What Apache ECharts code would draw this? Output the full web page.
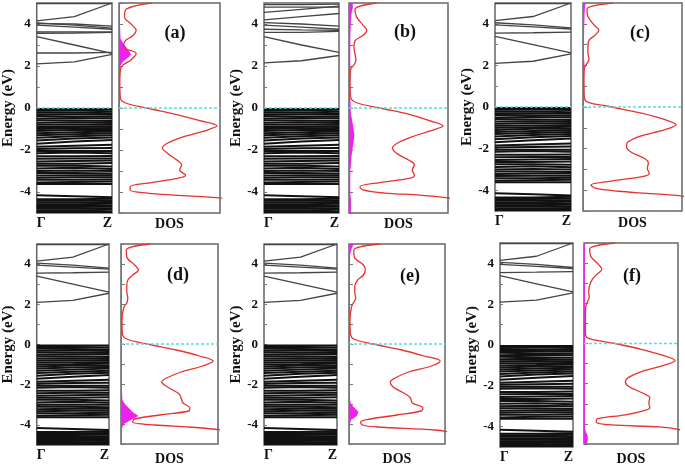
<!DOCTYPE html>
<html>
<head>
<meta charset="utf-8">
<script src="https://cdn.jsdelivr.net/npm/echarts@6/dist/echarts.min.js"></script>
<style>
  html, body { margin: 0; padding: 0; background: #fff; }
  #chart { width: 685px; height: 467px; }
</style>
</head>
<body>
<div id="chart"></div>
<script>
// k-path sample points: Γ, midway, Z
const kPath = [0, 0.5, 1]
const fermiLevel = 0

// conduction bands (eV at Γ, mid, Z)
const condBase = [
  [2.1, 2.2, 2.55],
  [3.4, 3.0, 2.6],
  [3.55, 3.57, 3.6],
  [3.95, 3.85, 3.75],
  [4.05, 3.95, 3.8],
  [4.15, 4.35, 5.0],
  [4.97, 4.97, 4.97]
]
const condExtraA = [[2.62, 2.62, 2.65], [3.62, 3.62, 3.62], [4.02, 4.0, 3.9]]
const condB = [
  [2.15, 2.25, 2.5], [3.4, 3.0, 2.65], [3.6, 3.6, 3.65], [3.75, 3.72, 3.7],
  [3.95, 3.85, 3.75], [4.07, 4.0, 3.9], [4.2, 4.35, 4.5], [4.55, 4.7, 4.85],
  [4.8, 4.8, 4.8], [4.92, 4.92, 4.95]
]

// valence bands (eV at Γ, mid, Z)
const valence = [
  [-0.05, -0.05, -0.05], [-0.12, -0.12, -0.15], [-0.2, -0.22, -0.25], [-0.3, -0.3, -0.32],
  [-0.38, -0.4, -0.42], [-0.5, -0.48, -0.5], [-0.58, -0.6, -0.62], [-0.7, -0.68, -0.72],
  [-0.8, -0.78, -0.8], [-0.9, -0.9, -0.88], [-1.0, -0.98, -0.95], [-1.1, -1.05, -1.05],
  [-1.2, -1.15, -1.12], [-1.3, -1.25, -1.2], [-1.42, -1.35, -1.3], [-1.55, -1.45, -1.4],
  [-1.7, -1.6, -1.52], [-1.85, -1.8, -1.75], [-1.95, -1.92, -1.9], [-2.05, -2.05, -2.05],
  [-2.15, -2.12, -2.15], [-2.3, -2.3, -2.28], [-2.42, -2.4, -2.4], [-2.55, -2.52, -2.5],
  [-2.65, -2.65, -2.62], [-2.75, -2.75, -2.78], [-2.88, -2.85, -2.9], [-3.0, -2.98, -3.0],
  [-3.1, -3.1, -3.12], [-3.22, -3.2, -3.2], [-3.32, -3.3, -3.3], [-3.42, -3.42, -3.4],
  [-3.55, -3.52, -3.5], [-3.62, -3.62, -3.62],
  [-4.15, -4.2, -4.25], [-4.35, -4.35, -4.32], [-4.42, -4.42, -4.4], [-4.5, -4.5, -4.48],
  [-4.58, -4.58, -4.56], [-4.65, -4.65, -4.65], [-4.72, -4.72, -4.7], [-4.8, -4.8, -4.78],
  [-4.88, -4.88, -4.85], [-4.95, -4.95, -4.95]
]

// total DOS: energy grid + values per panel
const dosE = [5.0, 4.7, 4.35, 3.95, 3.7, 3.45, 3.2, 2.9, 2.6, 2.3, 2.05, 1.85, 1.2, 0.5, 0.25, 0,
  -0.3, -0.6, -0.85, -1.1, -1.4, -1.7, -1.9, -2.15, -2.5, -2.7, -2.95, -3.2, -3.35, -3.55,
  -3.75, -3.9, -4.05, -4.15, -4.3, -4.45]
const dosA = [32, 7, 5.5, 13, 17, 14, 6, 4.5, 17, 12, 4, 1.5, 0.8, 1.3, 6, 27, 56, 80, 97, 84, 62, 47, 43, 48, 58, 62, 60, 66, 58, 32, 11, 11, 28, 55, 103, 110]
const dosB = [28, 6, 7.5, 14, 18, 14, 6, 5, 6, 7, 5, 1.7, 1, 1.7, 8, 31, 61, 81, 95, 81, 62, 48, 44, 48, 61, 66, 64, 66, 61, 31, 11, 14, 36, 72, 103, 110]
const dosC = [30, 4, 5, 11, 16, 12, 6, 5, 5, 6, 3.5, 1.3, 1, 1.3, 4, 29, 59, 82, 94, 82, 58, 45, 44, 48, 63, 66, 65, 67, 60, 30, 8, 12, 36, 65, 103, 110]
const dosD = [30, 5.5, 6, 14, 18, 12, 7, 6, 6, 7, 6, 3, 1, 1.5, 6, 27, 57, 81, 95, 84, 62, 47, 42, 48, 60, 62, 64, 71, 70, 40, 14, 12, 35, 70, 103, 110]
const dosEe = [32, 5, 5.5, 15, 17, 15, 9, 6, 6, 7, 4.5, 2.5, 1, 1.5, 5, 25, 55, 78, 95, 86, 62, 48, 43, 46, 59, 64, 66, 77, 75, 50, 22, 12, 14, 29, 90, 110]
const dosF = [33, 6, 7, 15, 19, 14, 9, 6, 5, 5.5, 3.5, 2, 1.5, 1.5, 5, 33, 62, 85, 97, 84, 61, 47, 44, 48, 64, 70, 69, 70, 63, 44, 14, 13, 29, 80, 103, 110]

// projected DOS (magenta)
const pdosE = [5.0, 4.8, 4.5, 4.0, 3.3, 3.1, 2.9, 2.7, 2.55, 2.4, 2.2, 2.0, 1.5, 0.5, -0.3, -0.8,
  -1.3, -1.8, -2.3, -2.8, -3.0, -3.2, -3.4, -3.6, -3.8, -4.0, -4.2, -4.4, -4.6, -4.8, -5.0]
const pdosA = [1.2, 1, 1, 1, 1.5, 4, 7, 10, 12, 9, 4, 1.2, 1, 1, 1, 1, 1, 1, 1, 1, 1, 1, 1, 1, 1, 1, 1, 1, 1, 1, 1]
const pdosB = [3.5, 4, 2.5, 1.8, 1.3, 1.3, 1.3, 1.3, 1.3, 1.3, 1.3, 1.3, 1.3, 1.3, 2, 4, 5.5, 4, 2.5, 1.8, 1.3, 1.3, 1.3, 1.3, 1.3, 1.3, 1.6, 2, 2, 2, 2]
const pdosC = [2.5, 2, 1.6, 1.3, 1, 1, 1, 1, 1, 1, 1.3, 1.6, 1, 1, 1, 1, 1, 1, 1, 1, 1, 1, 1, 1, 1, 1, 1, 1, 1, 1, 1]
const pdosD = [1, 1, 1, 1, 1, 1, 1, 1, 1, 1, 1, 1, 1, 1, 1, 1, 1, 1, 1, 1.5, 4, 8, 12, 18, 10, 3, 1, 1, 1, 1, 1]
const pdosEe = [5, 3, 1.3, 1, 1, 1, 1, 1, 1, 1, 1, 1, 1, 1, 1, 1, 1, 1, 1, 1, 2, 6, 10, 8, 2, 1, 1, 1, 1, 1, 1]
const pdosF = [1, 1, 1, 1, 1, 1, 1, 1, 1, 1, 1, 1, 1, 1, 1, 1, 1, 1, 1, 1, 1, 1, 1, 1, 1, 1, 1, 2, 4, 4, 3]

const panels = [
  { label: '(a)', band: [36, 3, 76, 210], dos: [119, 3, 101, 210], cond: condBase.concat(condExtraA), tdos: dosA, pdos: pdosA, tag: [175, 33], bandFermi: true, dosGap: 4 },
  { label: '(b)', band: [264, 3, 75, 210], dos: [349, 3, 99, 210], cond: condB, tdos: dosB, pdos: pdosB, tag: [405, 32], bandFermi: true, dosGap: 4 },
  { label: '(c)', band: [495, 3, 76, 208], dos: [583, 3, 99, 208], cond: condBase, tdos: dosC, pdos: pdosC, tag: [640, 33], bandFermi: true, dosGap: 5 },
  { label: '(d)', band: [36, 244, 73, 201], dos: [121, 244, 97, 201], cond: condBase, tdos: dosD, pdos: pdosD, tag: [178, 275], bandFermi: false, dosGap: 8 },
  { label: '(e)', band: [264, 244, 73, 201], dos: [349, 244, 96, 201], cond: condBase, tdos: dosEe, pdos: pdosEe, tag: [410, 276], bandFermi: false, dosGap: 8 },
  { label: '(f)', band: [500, 243, 73, 204], dos: [584, 243, 94, 204], cond: condBase, tdos: dosF, pdos: pdosF, tag: [632, 276], bandFermi: false, dosGap: 8 }
]

const FONT = 'Liberation Serif'
const grid = []
const xAxis = []
const yAxis = []
const series = []
const graphic = []

function bandLines(list, gi, color, width) {
  list.forEach(b => {
    series.push({
      type: 'line', xAxisIndex: gi, yAxisIndex: gi, silent: true, symbol: 'none',
      data: kPath.map((k, i) => [k, b[i]]),
      lineStyle: { color: color, width: width }
    })
  })
}

function fermiLine(gi, xmax) {
  series.push({
    type: 'line', xAxisIndex: gi, yAxisIndex: gi, silent: true, symbol: 'none', z: 5,
    data: [[0, fermiLevel], [xmax, fermiLevel]],
    lineStyle: { color: '#55dde0', width: 1.5, type: [3, 2] }
  })
}

panels.forEach((p, i) => {
  const gb = i * 2
  const gd = i * 2 + 1
  ;[p.band, p.dos].forEach(r => {
    grid.push({ left: r[0], top: r[1], width: r[2], height: r[3], show: true, borderColor: '#666', borderWidth: 1.5, backgroundColor: 'transparent' })
  })
  // band panel axes
  xAxis.push({
    gridIndex: gb, type: 'value', min: 0, max: 1, interval: 1,
    axisLine: { show: false }, axisTick: { show: false }, splitLine: { show: false },
    axisLabel: {
      margin: 3, color: '#111', fontFamily: FONT, fontWeight: 'bold', fontSize: 14,
      alignMinLabel: 'left', alignMaxLabel: 'right',
      formatter: v => (v === 0 ? 'Γ' : 'Z')
    }
  })
  yAxis.push({
    gridIndex: gb, type: 'value', min: -5, max: 5, interval: 1,
    axisLine: { show: false }, splitLine: { show: false },
    axisTick: { inside: true, length: 3, lineStyle: { color: '#777' } },
    axisLabel: {
      margin: 6, color: '#111', fontFamily: FONT, fontWeight: 'bold', fontSize: 13,
      formatter: v => (v % 2 === 0 && Math.abs(v) < 5 ? String(v) : '')
    },
    name: 'Energy (eV)', nameLocation: 'middle', nameGap: 19,
    nameTextStyle: { color: '#111', fontFamily: FONT, fontWeight: 'bold', fontSize: 15 }
  })
  // dos panel axes
  xAxis.push({
    gridIndex: gd, type: 'value', min: 0, max: 100,
    axisLine: { show: false }, axisTick: { show: false }, axisLabel: { show: false }, splitLine: { show: false },
    name: 'DOS', nameLocation: 'middle', nameGap: p.dosGap,
    nameTextStyle: { color: '#111', fontFamily: FONT, fontWeight: 'bold', fontSize: 14, verticalAlign: 'top' }
  })
  yAxis.push({
    gridIndex: gd, type: 'value', min: -5, max: 5, interval: 1,
    axisLine: { show: false }, splitLine: { show: false }, axisLabel: { show: false },
    axisTick: { inside: true, length: 4, lineStyle: { color: '#777' } }
  })

  bandLines(p.cond, gb, '#444', 1.3)
  bandLines(valence, gb, '#111', 2)
  if (p.bandFermi) fermiLine(gb, 1)

  // projected DOS as filled polygon against the left edge
  const pd = p.pdos.map((v, j) => [v, pdosE[j]])
  series.push({
    type: 'custom', xAxisIndex: gd, yAxisIndex: gd, silent: true, z: 3,
    data: pd,
    encode: { x: 0, y: 1 },
    renderItem: (params, api) => {
      if (params.dataIndex !== 0) return null
      const pts = pd.map(d => api.coord(d))
      pts.push(api.coord([0, pdosE[pdosE.length - 1]]))
      pts.push(api.coord([0, pdosE[0]]))
      return { type: 'polygon', shape: { points: pts }, style: { fill: '#ee22ee' } }
    }
  })

  series.push({
    type: 'line', xAxisIndex: gd, yAxisIndex: gd, silent: true, symbol: 'none', smooth: 0.35, z: 4,
    data: p.tdos.map((v, j) => [v, dosE[j]]),
    lineStyle: { color: '#e8322e', width: 1.3 }
  })
  fermiLine(gd, 100)

  graphic.push({
    type: 'text', x: p.tag[0], y: p.tag[1],
    style: { text: p.label, fill: '#111', font: 'bold 18px "' + FONT + '"', align: 'center', verticalAlign: 'middle' }
  })
})

const chart = echarts.init(document.getElementById('chart'))
chart.setOption({
  animation: false,
  backgroundColor: '#fff',
  grid: grid,
  xAxis: xAxis,
  yAxis: yAxis,
  series: series,
  graphic: graphic
})
</script>
</body>
</html>
